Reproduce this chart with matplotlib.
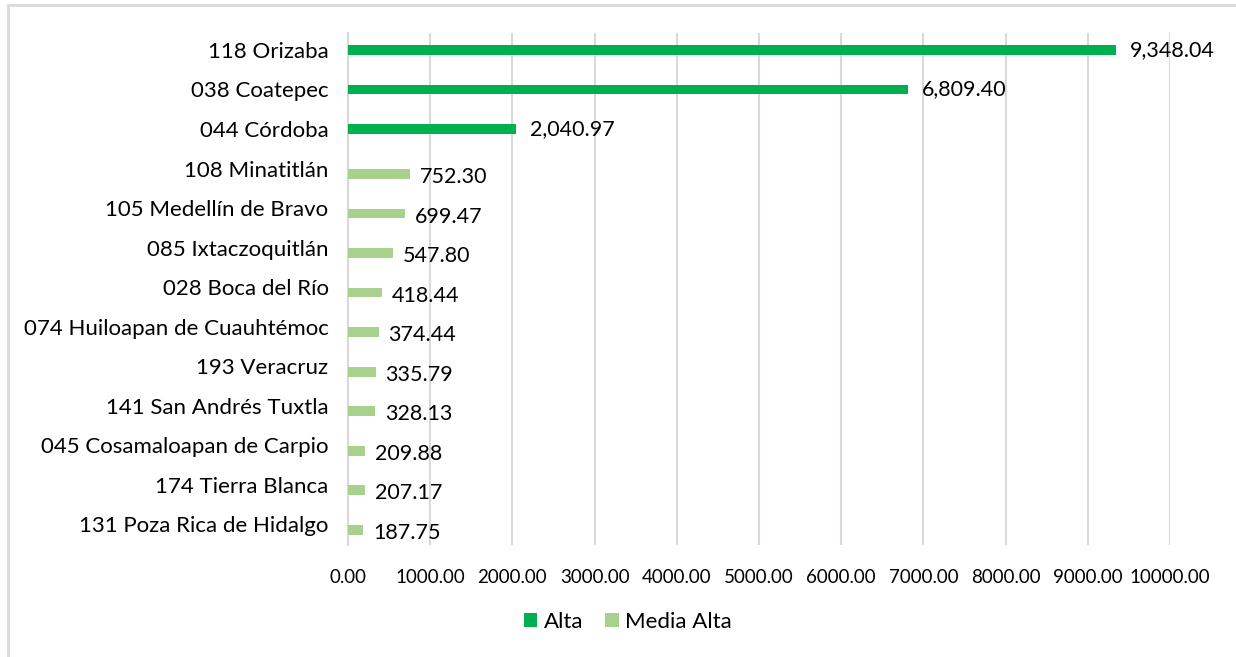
import matplotlib.pyplot as plt
from matplotlib.patches import Rectangle
import numpy as np

plt.rcParams['font.family'] = ['Lato', 'DejaVu Sans']

municipios = ["118 Orizaba", "038 Coatepec", "044 Córdoba", "108 Minatitlán",
              "105 Medellín de Bravo", "085 Ixtaczoquitlán", "028 Boca del Río",
              "074 Huiloapan de Cuauhtémoc", "193 Veracruz", "141 San Andrés Tuxtla",
              "045 Cosamaloapan de Carpio", "174 Tierra Blanca", "131 Poza Rica de Hidalgo"]
alta = [9348.04, 6809.40, 2040.97, 0, 0, 0, 0, 0, 0, 0, 0, 0, 0]
media_alta = [0, 0, 0, 752.30, 699.47, 547.80, 418.44, 374.44, 335.79, 328.13,
              209.88, 207.17, 187.75]
xticks = np.arange(0, 10001, 1000)

c_alta = "#00B050"
c_media = "#A9D18E"
grid_c = "#D9D9D9"

fig = plt.figure(figsize=(12.36, 6.57), dpi=100)
W, H = 1236, 657
ax = fig.add_axes([348 / W, 1 - 545 / H, (1170 - 348) / W, (545 - 33) / H])

y = np.arange(len(municipios))
h = 0.25
ax.barh(y[:3], alta[:3], height=h, color=c_alta, label="Alta", zorder=3)
ax.barh(y[3:] + 0.14, media_alta[3:], height=h, color=c_media, label="Media Alta", zorder=3)

for i in range(3):
    ax.annotate(f"{alta[i]:,.2f}", (alta[i], y[i]), xytext=(10, 0),
                textcoords="offset points", va="center", ha="left", fontsize=15.5)
for i in range(3, len(municipios)):
    ax.annotate(f"{media_alta[i]:,.2f}", (media_alta[i], y[i] + 0.22), xytext=(7, 0),
                textcoords="offset points", va="center", ha="left", fontsize=15.5)

ax.set_xlim(0, 10000)
ax.set_ylim(12.53, -0.43)
ax.set_xticks(xticks)
ax.set_xticklabels([f"{v:.2f}" for v in xticks], fontsize=13.5)
ax.set_yticks(y)
ax.set_yticklabels(municipios, fontsize=16)
ax.tick_params(length=0, pad=17, axis="x")
ax.tick_params(length=0, pad=14, axis="y")
ax.grid(axis="x", color=grid_c, linewidth=1.5, zorder=0)
for s in ["top", "right", "bottom"]:
    ax.spines[s].set_visible(False)
ax.spines["left"].set_color(grid_c)
ax.spines["left"].set_linewidth(1.5)

fig.legend(loc="center", bbox_to_anchor=(628 / W, 1 - 622 / H), ncol=2, frameon=False,
           fontsize=16, handlelength=0.6, handleheight=0.6, columnspacing=1.0, handletextpad=0.3)

fig.patches.append(Rectangle((8 / W, -0.05), 1.1, 1 - 5 / H + 0.05, transform=fig.transFigure,
                             fill=False, edgecolor=grid_c, linewidth=2))

fig.savefig("out.png", dpi=100)
